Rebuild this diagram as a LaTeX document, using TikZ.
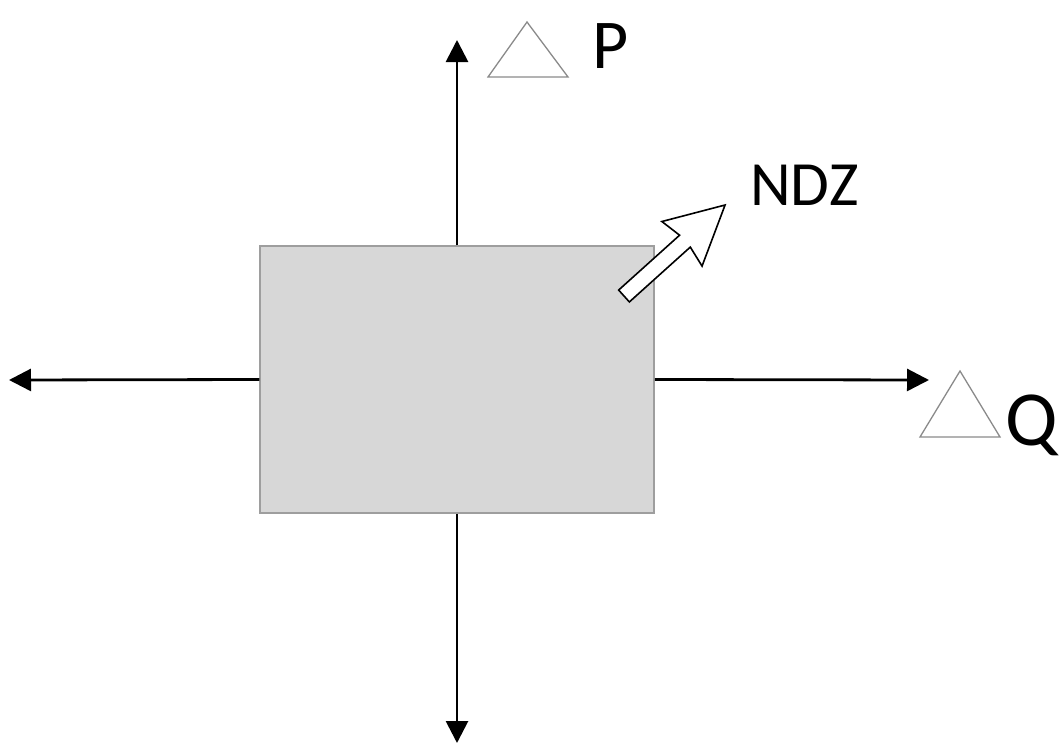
\documentclass[tikz,border=0pt]{standalone}
\usepackage{fontspec}
\setmainfont{Carlito}
\usetikzlibrary{arrows.meta}
\definecolor{boxfill}{HTML}{D7D7D7}
\definecolor{boxline}{HTML}{9E9E9E}
\definecolor{trigray}{HTML}{8A8A8A}
\tikzset{
  axis/.style={line width=2.8pt, draw=black, -{Triangle[length=22pt,width=22pt]}},
  delta/.style={draw=trigray, line width=1.3pt, line join=miter},
  lbl/.style={inner sep=0pt, anchor=base west, font=\fontsize{70}{74}\selectfont},
  qlbl/.style={inner sep=0pt, anchor=base west, font=\fontsize{78}{82}\selectfont},
  ndz/.style={inner sep=0pt, anchor=base west, font=\fontsize{63}{67}\selectfont},
  hollow/.style={draw=black, fill=white, line width=1.6pt, line join=miter}
}
\begin{document}
\begin{tikzpicture}[x=1pt,y=-1pt]
\useasboundingbox (0,0) rectangle (1059,744);
\node[draw=boxline, fill=boxfill, line width=1.5pt, minimum width=394pt, minimum height=267pt, inner sep=0pt] (box) at (457,379.5) {};
\coordinate (top) at (457,40);
\coordinate (bot) at (457,743);
\coordinate (lft) at (9,380);
\coordinate (rgt) at (929,380);
\draw[axis] (box.north) -- (top);
\draw[axis] (box.south) -- (bot);
\draw[axis] (box.west) -- (lft);
\draw[axis] (box.east) -- (rgt);
% delta triangles
\draw[delta] (527,22) -- (568,77) -- (488,77) -- cycle;
\draw[delta] (960,371) -- (1000,437) -- (920,437) -- cycle;
\node[lbl] (P) at (592,68) {P};
\node[qlbl] (Q) at (1005,445) {Q};
\node[ndz] (N) at (750,205) {NDZ};
% hollow arrow
\begin{scope}[shift={(624,296)}, rotate=42]
\draw[hollow] (0,-8) -- (82,-8) -- (78,-30) -- (136,0) -- (78,30) -- (82,8) -- (0,8) -- cycle;
\end{scope}
\end{tikzpicture}
\end{document}
